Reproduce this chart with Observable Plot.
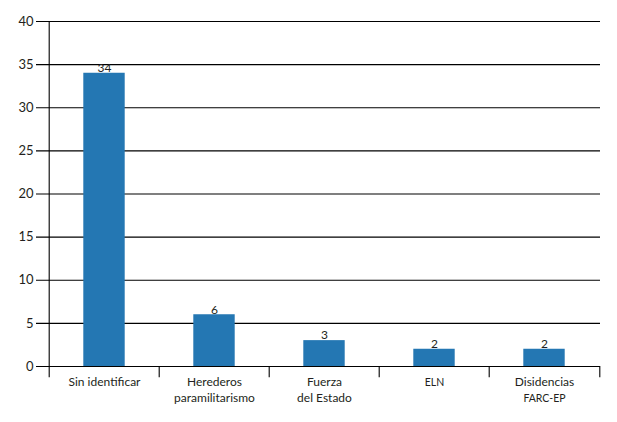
<!DOCTYPE html>
<html>
<head>
<meta charset="utf-8">
<script src="https://cdn.jsdelivr.net/npm/d3@7"></script>
<script src="https://cdn.jsdelivr.net/npm/@observablehq/plot@0.6"></script>
<style>
  html, body { margin: 0; padding: 0; background: #fff; }
  #chart svg { display: block; }
</style>
</head>
<body>
<div id="chart"></div>
<script>
const categories = ["Sin identificar", "Herederos paramilitarismo", "Fuerza del Estado", "ELN", "Disidencias FARC-EP"];
const values = [34, 6, 3, 2, 2];
const labelLine1 = ["Sin identificar", "Herederos", "Fuerza", "", "Disidencias"];
const labelLine2 = ["", "paramilitarismo", "del Estado", "", ""];
const smallLine1 = ["", "", "", "ELN", ""];
const smallLine2 = ["", "", "", "", "FARC-EP"];
const yTicks = [0, 5, 10, 15, 20, 25, 30, 35, 40];

const data = categories.map((c, i) => ({
  cat: c, value: values[i],
  l1: labelLine1[i], l2: labelLine2[i], s1: smallLine1[i], s2: smallLine2[i]
}));

const W = 617, H = 422;
const mL = 47, mR = 17, mT = 21, mB = 56;
const bw = (W - mL - mR) / categories.length;
const barW = 42;
const inset = (bw - barW) / 2;
const font = "Lato, 'Open Sans', sans-serif";
const ink = "#231f20";

const chart = Plot.plot({
  width: W, height: H,
  marginLeft: mL, marginRight: mR, marginTop: mT, marginBottom: mB,
  style: { fontFamily: font, fontSize: "13px", color: ink, background: "#fff" },
  x: { domain: categories, padding: 0, axis: null },
  y: { domain: [0, 40], ticks: yTicks, axis: null },
  marks: [
    Plot.ruleY(yTicks, { y: d => d, stroke: "#000", strokeWidth: 1.1, insetLeft: -11 }),
    Plot.text(yTicks, { y: d => d, frameAnchor: "left", dx: -14, textAnchor: "end", text: d => String(d), fontSize: 13, fill: ink }),
    Plot.barY(data, { x: "cat", y: "value", fill: "#2477b3", insetLeft: inset, insetRight: inset }),
    Plot.text(data, { x: "cat", y: "value", text: d => String(d.value), dy: -5, fontSize: 12, fill: ink }),
    Plot.ruleX([categories[0]], { x: d => d, y1: 40, y2: -1.3, dx: -bw / 2, stroke: "#000", strokeWidth: 1.1 }),
    Plot.ruleX(categories.slice(1), { x: d => d, y1: 0, y2: -1.3, dx: -bw / 2, stroke: "#000", strokeWidth: 1.1 }),
    Plot.ruleX([categories[categories.length - 1]], { x: d => d, y1: 0, y2: -1.3, dx: bw / 2, stroke: "#000", strokeWidth: 1.1 }),
    Plot.text(data, { x: "cat", y: 0, text: "l1", dy: 16, fontSize: 12, fill: ink }),
    Plot.text(data, { x: "cat", y: 0, text: "l2", dy: 32, fontSize: 12, fill: ink }),
    Plot.text(data, { x: "cat", y: 0, text: "s1", dy: 16, fontSize: 10.5, fill: ink }),
    Plot.text(data, { x: "cat", y: 0, text: "s2", dy: 32, fontSize: 10.5, fill: ink })
  ]
});
document.getElementById("chart").appendChild(chart);
</script>
</body>
</html>
